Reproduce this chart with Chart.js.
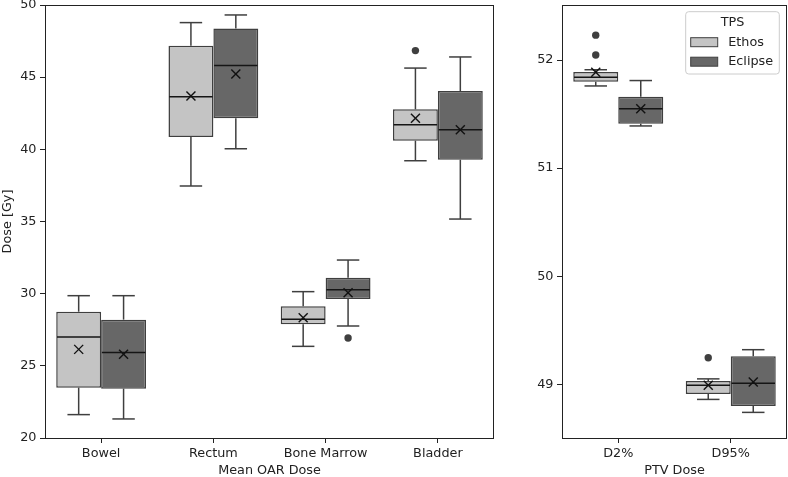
<!DOCTYPE html>
<html>
<head>
<meta charset="utf-8">
<script src="https://cdn.jsdelivr.net/npm/chart.js@4.4.1/dist/chart.umd.min.js"></script>
<style>
html, body { margin: 0; padding: 0; background: #fff; }
#wrap { position: relative; width: 788px; height: 477px; }
#oar-box { position: absolute; left: 0; top: 0; width: 500px; height: 477px; }
#ptv-box { position: absolute; left: 510px; top: 0; width: 278px; height: 477px; }
</style>
</head>
<body>
<div id="wrap">
  <div id="oar-box"><canvas id="oar-chart"></canvas></div>
  <div id="ptv-box"><canvas id="ptv-chart"></canvas></div>
</div>
<script>
const OAR_LABELS = ["Bowel", "Rectum", "Bone Marrow", "Bladder"];
const PTV_LABELS = ["D2%", "D95%"];
const SERIES_NAMES = ["Ethos", "Eclipse"];

// each entry: [low whisker, q1, median, q3, high whisker]
const ethosOAR = [[21.62, 23.49, 27.0, 28.75, 29.86], [37.46, 40.85, 43.65, 47.18, 48.78], [26.35, 27.88, 28.22, 29.12, 30.14], [39.21, 40.6, 41.71, 42.77, 45.63]];
const eclipseOAR = [[21.32, 23.42, 25.93, 28.2, 29.86], [40.04, 42.15, 45.8, 48.38, 49.31], [27.76, 29.63, 30.28, 31.11, 32.33], [35.17, 39.28, 41.36, 44.04, 46.4]];
const ethosOARMean = [26.14, 43.7, 28.33, 42.15];
const eclipseOARMean = [25.8, 45.22, 30.07, 41.36];
const ethosOAROutliers = [[], [], [], [46.84]];
const eclipseOAROutliers = [[], [], [26.93], []];

const ethosPTV = [[51.76, 51.80, 51.84, 51.89, 51.91], [48.86, 48.91, 48.99, 49.03, 49.05]];
const eclipsePTV = [[51.39, 51.41, 51.55, 51.66, 51.81], [48.74, 48.80, 49.01, 49.26, 49.32]];
const ethosPTVMean = [51.886, 48.99];
const eclipsePTVMean = [51.55, 49.02];
const ethosPTVOutliers = [[52.23, 52.046], [49.246]];
const eclipsePTVOutliers = [[], []];

const OAR_TICKS = [20, 25, 30, 35, 40, 45, 50];
const PTV_TICKS = [49, 50, 51, 52];

const FILLS = ["#c4c4c4", "#676767"];
const EDGE = "#3f3f3f";
const INK = "#222222";

Chart.defaults.font.family = "'DejaVu Sans', sans-serif";
Chart.defaults.font.size = 12.8;
Chart.defaults.color = INK;
Chart.defaults.animation = false;

function line(ctx, x1, y1, x2, y2) {
   ctx.beginPath();
   ctx.moveTo(x1, y1);
   ctx.lineTo(x2, y2);
   ctx.stroke();
}

const boxPlotPlugin = {
   id: "boxplot",
   afterDatasetsDraw(chart) {
      const ctx = chart.ctx;
      const y = chart.scales.y;
      chart.data.datasets.forEach((ds, i) => {
         chart.getDatasetMeta(i).data.forEach((bar, j) => {
            const s = ds.stats[j];
            const x = bar.x, w = bar.width;
            ctx.save();
            ctx.strokeStyle = EDGE;
            ctx.lineWidth = 1.5;
            line(ctx, x, y.getPixelForValue(s[0]), x, y.getPixelForValue(s[1]));
            line(ctx, x, y.getPixelForValue(s[3]), x, y.getPixelForValue(s[4]));
            line(ctx, x - w / 4, y.getPixelForValue(s[0]), x + w / 4, y.getPixelForValue(s[0]));
            line(ctx, x - w / 4, y.getPixelForValue(s[4]), x + w / 4, y.getPixelForValue(s[4]));
            // median
            ctx.strokeStyle = "#151515";
            const my = y.getPixelForValue(s[2]);
            line(ctx, x - w / 2 + 0.75, my, x + w / 2 - 0.75, my);
            // mean
            const mv = y.getPixelForValue(ds.means[j]);
            ctx.strokeStyle = "#111";
            ctx.lineWidth = 1.4;
            line(ctx, x - 4.5, mv - 4.5, x + 4.5, mv + 4.5);
            line(ctx, x - 4.5, mv + 4.5, x + 4.5, mv - 4.5);
            // outliers
            ctx.fillStyle = EDGE;
            ds.outliers[j].forEach(v => {
               ctx.beginPath();
               ctx.arc(x, y.getPixelForValue(v), 3.7, 0, Math.PI * 2);
               ctx.fill();
            });
            ctx.restore();
         });
      });
   },
   afterDraw(chart) {
      const ctx = chart.ctx;
      const a = chart.chartArea;
      ctx.save();
      ctx.strokeStyle = INK;
      ctx.lineWidth = 1;
      ctx.strokeRect(Math.round(a.left) + 0.5, Math.round(a.top) + 0.5, Math.round(a.right - a.left) - 1, Math.round(a.bottom - a.top));
      const lg = chart.options.plugins.boxplot.legend;
      if (lg) {
         ctx.fillStyle = "rgba(255,255,255,0.8)";
         ctx.strokeStyle = "#cccccc";
         ctx.beginPath();
         ctx.roundRect(lg.x, lg.y, lg.w, lg.h, 3);
         ctx.fill();
         ctx.stroke();
         ctx.fillStyle = INK;
         ctx.font = "12.8px 'DejaVu Sans'";
         ctx.textBaseline = "middle";
         ctx.textAlign = "center";
         ctx.fillText("TPS", lg.x + lg.w / 2, lg.y + 11);
         ctx.textAlign = "left";
         chart.data.datasets.forEach((ds, i) => {
            const ry = lg.y + 30.5 + i * 19.5;
            ctx.fillStyle = ds.backgroundColor;
            ctx.strokeStyle = EDGE;
            ctx.lineWidth = 1;
            ctx.fillRect(lg.x + 5, ry - 4.5, 27, 9);
            ctx.strokeRect(lg.x + 5, ry - 4.5, 27, 9);
            ctx.fillStyle = INK;
            ctx.fillText(ds.label, lg.x + 42.5, ry);
         });
      }
      ctx.restore();
   }
};

function makeBoxChart(id, labels, series, means, outliers, yMin, yMax, ticks, xTitle, yTitle, yWidth, padding, legend) {
   const datasets = series.map((stats, i) => ({
      label: SERIES_NAMES[i],
      data: stats.map(s => [s[1], s[3]]),
      stats: stats,
      means: means[i],
      outliers: outliers[i],
      backgroundColor: FILLS[i],
      borderColor: EDGE,
      borderWidth: 1.5,
      borderSkipped: false,
      categoryPercentage: 0.8,
      barPercentage: 1.0
   }));
   return new Chart(id, {
      type: "bar",
      data: { labels: labels, datasets: datasets },
      options: {
         responsive: true,
         maintainAspectRatio: false,
         layout: { padding: padding },
         plugins: {
            legend: { display: false },
            tooltip: { enabled: false },
            boxplot: { legend: legend }
         },
         scales: {
            x: {
               offset: true,
               border: { display: false },
               grid: { offset: false, drawOnChartArea: false, tickLength: 5, tickColor: INK, tickWidth: 1 },
               ticks: { padding: 3, maxRotation: 0, color: INK },
               title: { display: true, text: xTitle, padding: { top: 0, bottom: -1 }, color: INK },
               afterFit(s) { s.height = 39; s.paddingLeft = 0; s.paddingRight = 0; }
            },
            y: {
               min: yMin,
               max: yMax,
               border: { display: false },
               grid: { drawOnChartArea: false, tickLength: 5, tickColor: INK, tickWidth: 1 },
               ticks: { padding: 3.5, color: INK },
               title: yTitle ? { display: true, text: yTitle, padding: 0, color: INK } : { display: false },
               afterBuildTicks(s) { s.ticks = ticks.map(v => ({ value: v })); },
               afterFit(s) { s.width = yWidth; s.paddingTop = 0; s.paddingBottom = 0; }
            }
         }
      },
      plugins: [boxPlotPlugin]
   });
}

makeBoxChart("oar-chart", OAR_LABELS, [ethosOAR, eclipseOAR], [ethosOARMean, eclipseOARMean],
   [ethosOAROutliers, eclipseOAROutliers], 20, 50, OAR_TICKS, "Mean OAR Dose", "Dose [Gy]", 45,
   { top: 5, right: 6, left: 0, bottom: 0 }, null);

makeBoxChart("ptv-chart", PTV_LABELS, [ethosPTV, eclipsePTV], [ethosPTVMean, eclipsePTVMean],
   [ethosPTVOutliers, eclipsePTVOutliers], 48.503, 52.509, PTV_TICKS, "PTV Dose", null, 52,
   { top: 5, right: 1, left: 0, bottom: 0 }, { x: 175.7, y: 11.7, w: 93.6, h: 62.3 });
</script>
</body>
</html>
